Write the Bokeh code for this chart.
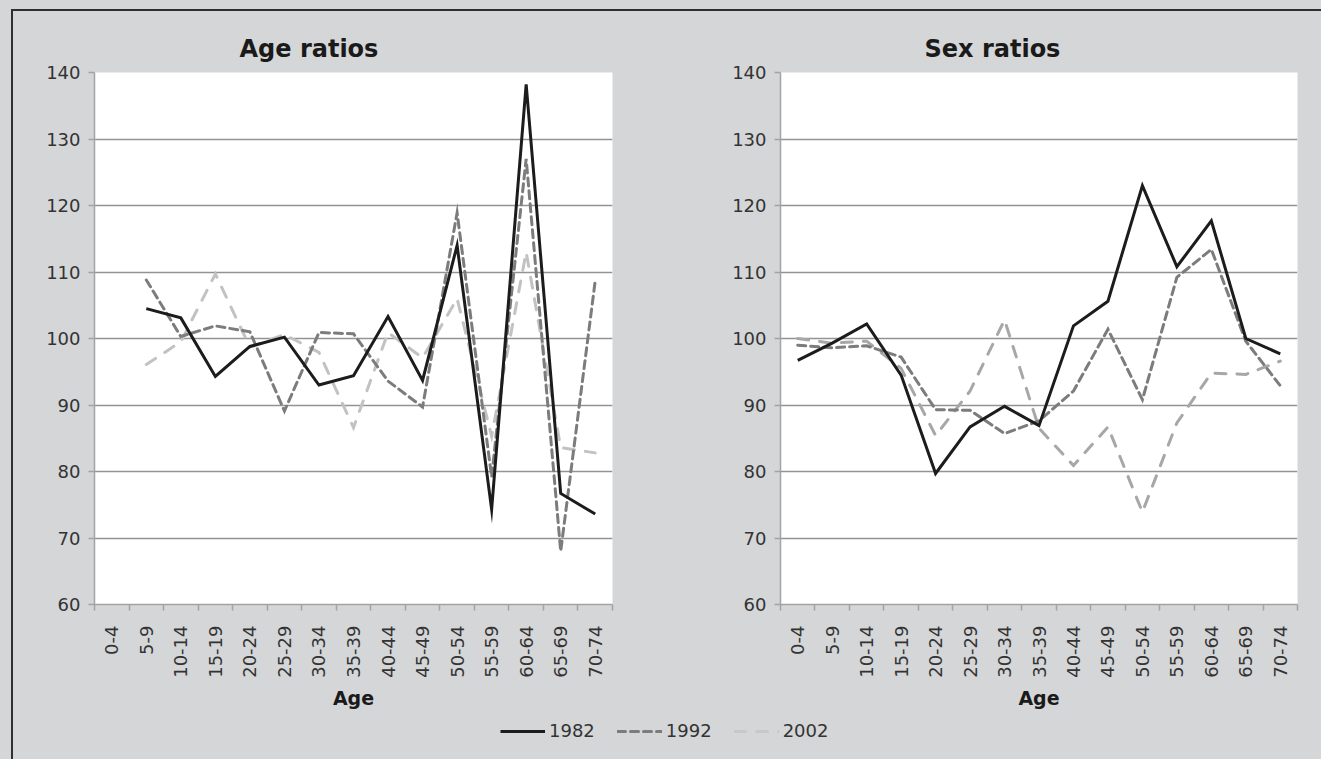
import math
from bokeh.plotting import figure
from bokeh.models import Range1d, FixedTicker, Legend, LegendItem, GlobalInlineStyleSheet
from bokeh.layouts import row, column
from bokeh.embed import file_html
from bokeh.resources import INLINE

NaN = float("nan")

# ---------------- data ----------------
age_groups = ["0-4", "5-9", "10-14", "15-19", "20-24", "25-29", "30-34", "35-39",
              "40-44", "45-49", "50-54", "55-59", "60-64", "65-69", "70-74"]
years = ["1982", "1992", "2002"]
y_ticks = [60, 70, 80, 90, 100, 110, 120, 130, 140]

age_ratio_1982 = [NaN, 104.5, 103.1, 94.3, 98.8, 100.2, 93.0, 94.4, 103.3, 93.7, 114.0, 74.3, 138.2, 76.7, 73.6]
age_ratio_1992 = [NaN, 108.8, 100.3, 101.9, 101.0, 89.1, 100.9, 100.7, 93.6, 89.7, 118.9, 79.2, 127.0, 68.0, 108.7]
age_ratio_2002 = [NaN, 96.1, 99.5, 109.7, 98.7, 100.6, 97.9, 86.6, 100.9, 97.1, 106.0, 85.3, 113.0, 83.6, 82.8]

sex_ratio_1982 = [96.7, 99.3, 102.2, 94.5, 79.7, 86.7, 89.8, 86.9, 101.9, 105.6, 123.0, 110.8, 117.7, 100.0, 97.7]
sex_ratio_1992 = [99.0, 98.6, 98.9, 97.2, 89.3, 89.2, 85.7, 87.6, 92.1, 101.4, 90.8, 109.2, 113.4, 99.6, 92.9]
sex_ratio_2002 = [100.0, 99.3, 99.6, 95.5, 85.4, 92.1, 102.8, 86.5, 80.9, 86.7, 73.9, 87.3, 94.8, 94.6, 96.6]

# ---------------- styles ----------------
BG = "#d5d6d8"
FONT = "DejaVu Sans"
TXT = "#333333"
AXIS = "#a3a3a3"
GRID = "#939393"
C1982 = "#1c1c1c"
C1992 = "#7c7c7c"
C2002_LEFT = "#c2c2c2"
C2002_RIGHT = "#a7a7a7"
C2002_LEGEND = "#c8c8c8"
DASH_1992 = "8 5"
DASH_2002 = "11 11"

xs = list(range(len(age_groups)))
boundaries = [i - 0.5 for i in range(len(age_groups) + 1)]


def make_panel(title, s82, s92, s02, c02, width, height, left, right, top, bottom, title_offset):
    p = figure(width=width, height=height,
               x_range=Range1d(-0.5, len(age_groups) - 0.5), y_range=Range1d(60, 140),
               output_backend="svg", toolbar_location=None,
               min_border_left=left, min_border_right=right,
               min_border_top=top, min_border_bottom=bottom,
               background_fill_color="white", border_fill_color=BG,
               outline_line_color=None)
    p.title.text = title
    p.title.align = "left"
    p.title.offset = title_offset
    p.title.standoff = 20
    p.title.text_font = FONT
    p.title.text_font_size = "24px"
    p.title.text_font_style = "bold"
    p.title.text_color = "#1a1a1a"

    p.xgrid.visible = False
    p.ygrid.ticker = FixedTicker(ticks=y_ticks)
    p.ygrid.grid_line_color = GRID
    p.ygrid.grid_line_width = 1.5

    ya = p.yaxis[0]
    ya.ticker = FixedTicker(ticks=y_ticks)
    ya.axis_line_color = AXIS
    ya.axis_line_width = 1.5
    ya.major_tick_line_color = AXIS
    ya.major_tick_line_width = 1.5
    ya.major_tick_in = 0
    ya.major_tick_out = 6
    ya.minor_tick_line_color = None
    ya.major_label_text_font = FONT
    ya.major_label_text_font_size = "18px"
    ya.major_label_text_color = TXT
    ya.major_label_standoff = 8

    xa = p.xaxis[0]
    xa.ticker = FixedTicker(ticks=xs, minor_ticks=boundaries)
    xa.major_label_overrides = {i: g for i, g in zip(xs, age_groups)}
    xa.axis_line_color = AXIS
    xa.axis_line_width = 1.5
    xa.major_tick_in = 0
    xa.major_tick_out = 0
    xa.major_tick_line_color = None
    xa.minor_tick_in = 0
    xa.minor_tick_out = 6
    xa.minor_tick_line_color = AXIS
    xa.minor_tick_line_width = 1.5
    xa.major_label_orientation = math.pi / 2
    xa.major_label_text_font = FONT
    xa.major_label_text_font_size = "18px"
    xa.major_label_text_color = TXT
    xa.major_label_standoff = 15
    xa.axis_label = "Age"
    xa.axis_label_text_font = FONT
    xa.axis_label_text_font_size = "19px"
    xa.axis_label_text_font_style = "bold"
    xa.axis_label_text_color = "#1a1a1a"
    xa.axis_label_standoff = 6

    p.line(xs, s02, line_color=c02, line_width=3, line_dash=DASH_2002, line_cap="round", line_join="miter")
    p.line(xs, s92, line_color=C1992, line_width=3, line_dash=DASH_1992, line_cap="round", line_join="miter")
    p.line(xs, s82, line_color=C1982, line_width=3, line_join="miter")
    return p


ROW_H = 711
p1 = make_panel("Age ratios", age_ratio_1982, age_ratio_1992, age_ratio_2002, C2002_LEFT,
                width=698, height=ROW_H, left=94, right=86, top=72, bottom=107, title_offset=145)
p2 = make_panel("Sex ratios", sex_ratio_1982, sex_ratio_1992, sex_ratio_2002, C2002_RIGHT,
                width=607, height=ROW_H, left=82, right=8, top=69, bottom=107, title_offset=144)

# legend strip (series drawn outside the visible range; only the legend shows)
p3 = figure(width=1305, height=32, x_range=Range1d(-0.5, len(age_groups) - 0.5), y_range=Range1d(0, 1),
            output_backend="svg", toolbar_location=None, min_border=0,
            border_fill_color=BG, background_fill_color=BG, outline_line_color=None,
            x_axis_type=None, y_axis_type=None)
r82 = p3.line(xs, age_ratio_1982, line_color=C1982, line_width=3)
r92 = p3.line(xs, age_ratio_1992, line_color=C1992, line_width=3, line_dash=DASH_1992, line_cap="round")
r02 = p3.line(xs, age_ratio_2002, line_color=C2002_LEGEND, line_width=3, line_dash=DASH_2002, line_cap="round")
legend = Legend(items=[LegendItem(label=years[0], renderers=[r82]),
                       LegendItem(label=years[1], renderers=[r92]),
                       LegendItem(label=years[2], renderers=[r02])],
                orientation="horizontal", location=(500, 2),
                label_text_font=FONT, label_text_font_size="18px", label_text_color=TXT,
                glyph_width=45, label_standoff=4, spacing=22, padding=0, margin=0,
                background_fill_alpha=0, border_line_alpha=0)
p3.add_layout(legend, "center")

css = ("html, body { background-color: %s; } "
       "body::before { content: ''; position: fixed; left: 11px; top: 9px; width: 2px; height: 3000px; "
       "background: #2f2f2f; pointer-events: none; z-index: 100; } "
       "body::after { content: ''; position: fixed; left: 11px; top: 9px; width: 3000px; height: 2px; "
       "background: #2f2f2f; pointer-events: none; z-index: 100; }" % BG)

layout = column(row(p1, p2), p3, stylesheets=[GlobalInlineStyleSheet(css=css)])

open("out.html", "w").write(file_html(layout, INLINE))
